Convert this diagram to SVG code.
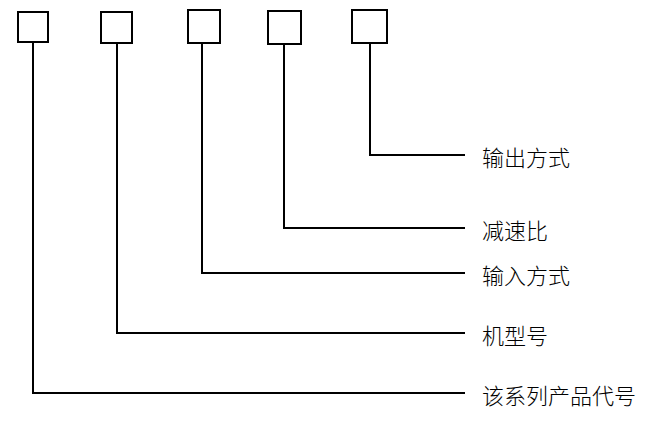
<svg xmlns="http://www.w3.org/2000/svg" width="650" height="443" viewBox="0 0 650 443">
<style>
.box{fill:#fff;stroke:#000;stroke-width:2}
.ln{fill:none;stroke:#000;stroke-width:2}
.t{font-family:"Noto Sans CJK SC","Noto Sans",sans-serif;font-size:22px;font-weight:300;fill:#000;dominant-baseline:central}
</style>
<rect width="650" height="443" fill="#fff"/>
<g id="connectors">
<polyline class="ln" points="33,42 33,393 465,393"/>
<polyline class="ln" points="117,43 117,333 465,333"/>
<polyline class="ln" points="202,43 202,273 465,273"/>
<polyline class="ln" points="284,44 284,228 465,228"/>
<polyline class="ln" points="370,43 370,155 465,155"/>
</g>
<g id="box1"><rect class="box" x="18" y="12" width="30" height="30"/></g>
<g id="box2"><rect class="box" x="101" y="12" width="31" height="31"/></g>
<g id="box3"><rect class="box" x="188" y="10" width="32" height="33"/></g>
<g id="box4"><rect class="box" x="268" y="11" width="33" height="33"/></g>
<g id="box5"><rect class="box" x="352" y="10" width="35" height="33"/></g>
<g id="label5"><text class="t" x="482" y="156">输出方式</text></g>
<g id="label4"><text class="t" x="482" y="229">减速比</text></g>
<g id="label3"><text class="t" x="482" y="274">输入方式</text></g>
<g id="label2"><text class="t" x="482" y="334">机型号</text></g>
<g id="label1"><text class="t" x="482" y="394">该系列产品代号</text></g>
</svg>
